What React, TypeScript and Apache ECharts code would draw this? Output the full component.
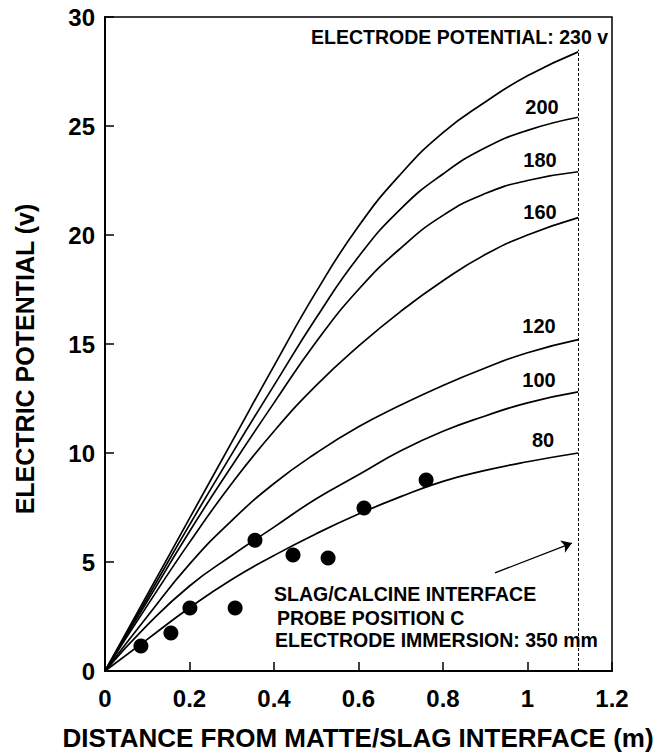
import React, { useEffect, useRef } from "react";
import * as echarts from "echarts";

// Distance from matte/slag interface (m)
const distance = [0, 0.1, 0.2, 0.3, 0.4, 0.5, 0.6, 0.7, 0.8, 0.9, 1.0, 1.12];

// Electric potential (v) for each electrode potential
const v230 = [0, 3.5, 7.0, 10.5, 14.0, 17.4, 20.4, 22.8, 24.7, 26.1, 27.3, 28.4];
const v200 = [0, 3.35, 6.7, 9.95, 13.1, 16.2, 19.0, 21.2, 22.8, 24.0, 24.8, 25.4];
const v180 = [0, 3.2, 6.4, 9.4, 12.3, 15.1, 17.5, 19.4, 20.9, 21.9, 22.5, 22.9];
const v160 = [0, 3.0, 5.9, 8.6, 11.0, 13.1, 14.9, 16.5, 17.9, 19.1, 20.0, 20.8];
const v120 = [0, 2.5, 4.9, 6.9, 8.6, 10.0, 11.2, 12.2, 13.1, 13.9, 14.6, 15.2];
const v100 = [0, 2.1, 3.9, 5.3, 6.6, 7.9, 9.0, 10.1, 11.0, 11.7, 12.3, 12.8];
const v80 = [0, 1.45, 2.9, 4.2, 5.3, 6.3, 7.2, 8.0, 8.7, 9.2, 9.6, 10.0];

const curveNames = ["230", "200", "180", "160", "120", "100", "80"];
const curveValues = [v230, v200, v180, v160, v120, v100, v80];

// Measured points (probe position C)
const probeX = [0.085, 0.156, 0.201, 0.308, 0.355, 0.445, 0.528, 0.613, 0.76];
const probeY = [1.15, 1.74, 2.89, 2.89, 6.0, 5.32, 5.18, 7.48, 8.76];

// Slag/calcine interface position and arrow
const interfaceX = 1.12;
const interfaceTop = 28.5;
const arrowFrom = [0.923, 4.5];
const arrowTo = [1.105, 5.87];

const xTicks = [0, 1.2, 0.2];
const yTicks = [0, 30, 5];

const FONT = "'Liberation Sans', Arial, Helvetica, sans-serif";

export default function App() {
  const ref = useRef<HTMLDivElement>(null);

  useEffect(() => {
    if (!ref.current) return;
    const chart = echarts.init(ref.current, null, { renderer: "svg" });

    const lineSeries = curveNames.map((name, i) => ({
      type: "line",
      name,
      data: distance.map((x, j) => [x, curveValues[i][j]]),
      smooth: 0.5,
      showSymbol: false,
      symbol: "none",
      lineStyle: { color: "#000", width: 1.7 },
      silent: true,
      z: 3,
    }));

    (lineSeries[0] as any).markLine = {
      silent: true,
      animation: false,
      symbol: "none",
      label: { show: false },
      lineStyle: { color: "#000", width: 1, type: [3, 2] },
      data: [[{ coord: [interfaceX, 0] }, { coord: [interfaceX, interfaceTop] }]],
    };

    const annotation = (text: string, x: number, y: number, align = "center", size = 20) => ({
      type: "text",
      x,
      y,
      silent: true,
      style: {
        text,
        fill: "#000",
        font: `bold ${size}px ${FONT}`,
        align,
        verticalAlign: "middle",
      },
    });

    chart.setOption({
      animation: false,
      backgroundColor: "#fff",
      grid: {
        left: 105,
        right: 47,
        top: 17,
        bottom: 82,
        show: true,
        borderColor: "#000",
        borderWidth: 1.5,
        backgroundColor: "transparent",
      },
      xAxis: {
        type: "value",
        min: xTicks[0],
        max: xTicks[1],
        interval: xTicks[2],
        axisLine: { show: true, onZero: false, lineStyle: { color: "#000", width: 2 } },
        axisTick: { show: true, inside: true, length: 9, lineStyle: { color: "#000", width: 1.5 } },
        splitLine: { show: false },
        axisLabel: {
          color: "#000",
          fontSize: 24,
          fontWeight: "bold",
          fontFamily: FONT,
          margin: 15,
        },
      },
      yAxis: {
        type: "value",
        min: yTicks[0],
        max: yTicks[1],
        interval: yTicks[2],
        axisLine: { show: true, onZero: false, lineStyle: { color: "#000", width: 2 } },
        axisTick: { show: true, inside: true, length: 9, lineStyle: { color: "#000", width: 1.5 } },
        splitLine: { show: false },
        axisLabel: {
          color: "#000",
          fontSize: 24,
          fontWeight: "bold",
          fontFamily: FONT,
          margin: 10,
        },
      },
      series: [
        ...lineSeries,
        {
          type: "scatter",
          name: "Probe C",
          data: probeX.map((x, i) => [x, probeY[i]]),
          symbol: "circle",
          symbolSize: 15,
          itemStyle: { color: "#000", opacity: 1 },
          silent: true,
          z: 4,
        },
        {
          type: "line",
          name: "arrow",
          data: [],
          silent: true,
          markLine: {
            silent: true,
            animation: false,
            symbol: ["none", "arrow"],
            symbolSize: 10,
            label: { show: false },
            lineStyle: { color: "#000", width: 1.3, type: "solid" },
            data: [[{ coord: arrowFrom }, { coord: arrowTo }]],
          },
        },
      ],
      graphic: [
        {
          type: "text",
          x: 25,
          y: 359,
          rotation: Math.PI / 2,
          silent: true,
          style: {
            text: "ELECTRIC POTENTIAL (v)",
            fill: "#000",
            font: `bold 25px ${FONT}`,
            align: "center",
            verticalAlign: "middle",
          },
        },
        annotation("DISTANCE FROM MATTE/SLAG INTERFACE (m)", 358, 738, "center", 26),
        annotation("ELECTRODE POTENTIAL: 230 v", 608, 37, "right", 19.5),
        annotation("200", 542, 107),
        annotation("180", 540, 160),
        annotation("160", 540, 212),
        annotation("120", 539, 326),
        annotation("100", 539, 380),
        annotation("80", 543, 440),
        annotation("SLAG/CALCINE INTERFACE", 274, 594, "left", 19.5),
        annotation("PROBE POSITION C", 277, 618, "left", 19.5),
        annotation("ELECTRODE IMMERSION: 350 mm", 275, 640, "left", 19.5),
      ],
    });

    return () => chart.dispose();
  }, []);

  return (
    <div
      ref={ref}
      style={{ position: "fixed", left: 0, top: 0, width: 659, height: 753, background: "#fff" }}
    />
  );
}
